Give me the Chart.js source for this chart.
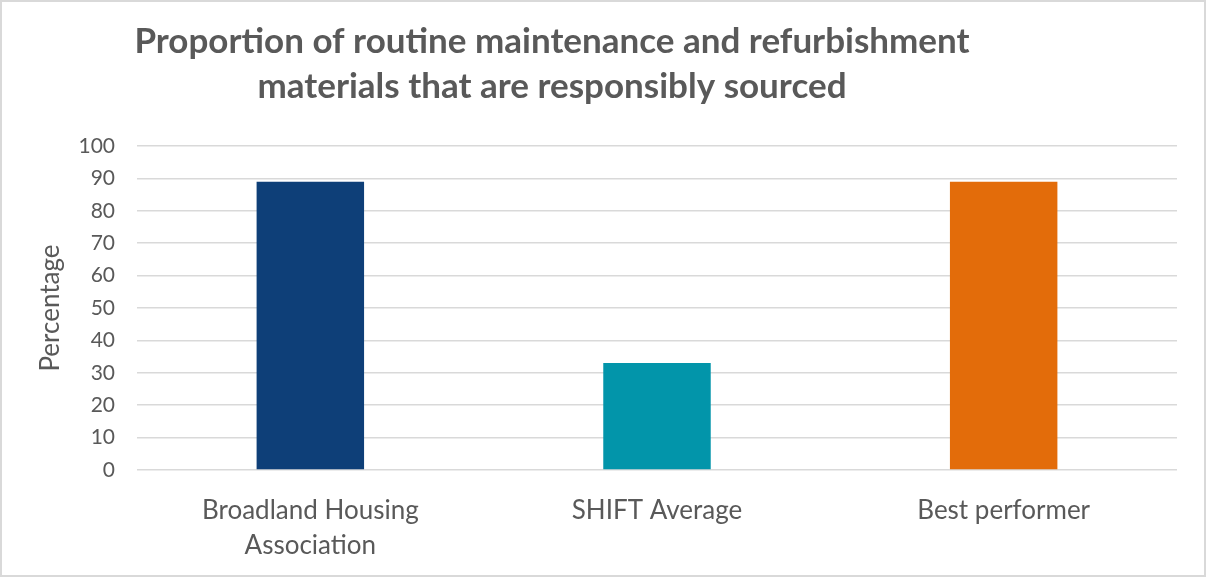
<!DOCTYPE html>
<html>
<head>
<meta charset="utf-8">
<script src="https://cdn.jsdelivr.net/npm/chart.js@4/dist/chart.umd.min.js"></script>
<style>
  body { margin: 0; background: #fff; }
  canvas { display: block; }
</style>
</head>
<body>
<canvas id="chart" width="1206" height="577"></canvas>
<script>
const categories = [['Broadland Housing', 'Association'], ['SHIFT Average'], ['Best performer']];
const values = [89, 33, 89];
const barColors = ['#0E3F78', '#0295AA', '#E36C0A'];
const titleLines = ['Proportion of routine maintenance and refurbishment', 'materials that are responsibly sourced'];
const yTitle = 'Percentage';

const textGray = '#595959';
const gridGray = '#D9D9D9';

// title drawn by hand so it sits where the original one does, plus the outer frame
const frameAndTitle = {
    id: 'frameAndTitle',
    afterDraw(chart) {
        const ctx = chart.ctx;
        ctx.save();
        ctx.strokeStyle = gridGray;
        ctx.lineWidth = 2;
        ctx.strokeRect(1, 1, chart.width - 2, chart.height - 2);
        ctx.fillStyle = textGray;
        ctx.font = 'bold 35px Lato';
        ctx.textAlign = 'center';
        ctx.textBaseline = 'alphabetic';
        ctx.fillText(titleLines[0], 552, 53);
        ctx.fillText(titleLines[1], 552, 98);
        ctx.restore();
    }
};

new Chart(document.getElementById('chart'), {
    type: 'bar',
    data: {
        labels: categories,
        datasets: [{
            data: values,
            backgroundColor: barColors,
            barPercentage: 0.31,
            categoryPercentage: 1
        }]
    },
    options: {
        responsive: false,
        animation: false,
        layout: {
            padding: { top: 146, right: 29, bottom: 0, left: 0 }
        },
        plugins: {
            legend: { display: false },
            title: { display: false },
            tooltip: { enabled: false }
        },
        scales: {
            x: {
                grid: { display: false },
                border: { display: false },
                ticks: {
                    color: textGray,
                    font: { family: 'Lato', size: 26, lineHeight: 1.35 },
                    padding: 15,
                    maxRotation: 0,
                    autoSkip: false
                },
                afterFit: s => { s.height = 107; }
            },
            y: {
                min: 0,
                max: 100,
                ticks: {
                    stepSize: 10,
                    color: textGray,
                    font: { family: 'Lato', size: 21 },
                    padding: 22
                },
                grid: {
                    color: gridGray,
                    lineWidth: 1.6,
                    drawTicks: false
                },
                border: { display: false },
                title: {
                    display: true,
                    text: yTitle,
                    color: textGray,
                    font: { family: 'Lato', size: 26 },
                    padding: { top: 35, bottom: 0 }
                },
                afterFit: s => { s.width = 137; }
            }
        }
    },
    plugins: [frameAndTitle]
});
</script>
</body>
</html>
